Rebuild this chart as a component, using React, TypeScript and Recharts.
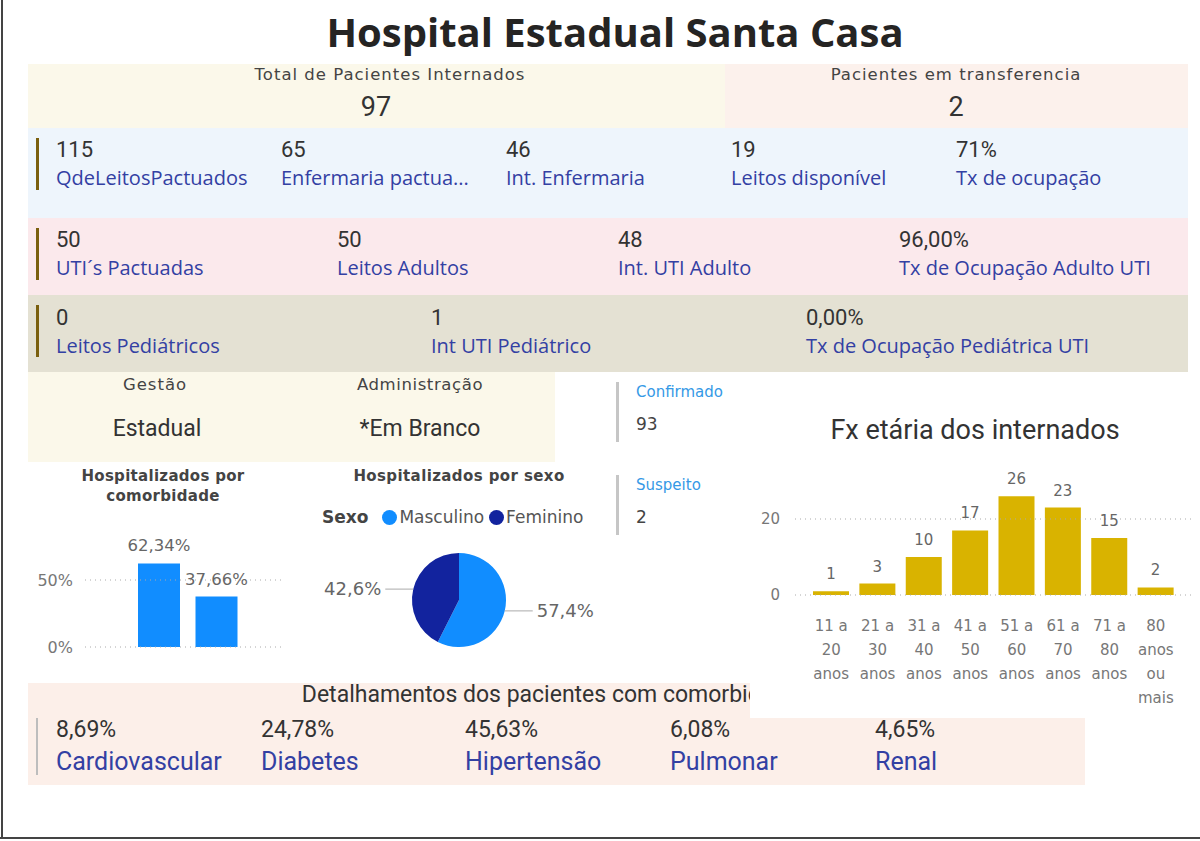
import {
  Bar,
  BarChart,
  Cell,
  LabelList,
  Legend,
  Pie,
  PieChart,
  ReferenceLine,
  XAxis,
  YAxis,
} from "recharts";

// KPI values
const totalInternados = "97";
const emTransferencia = "2";

const leitosLabels = ["QdeLeitosPactuados", "Enfermaria pactua...", "Int. Enfermaria", "Leitos disponível", "Tx de ocupação"];
const leitosValues = ["115", "65", "46", "19", "71%"];

const utiLabels = ["UTI´s Pactuadas", "Leitos Adultos", "Int. UTI Adulto", "Tx de Ocupação Adulto UTI"];
const utiValues = ["50", "50", "48", "96,00%"];

const pedLabels = ["Leitos Pediátricos", "Int UTI Pediátrico", "Tx de Ocupação Pediátrica UTI"];
const pedValues = ["0", "1", "0,00%"];

const gestao = "Estadual";
const administracao = "*Em Branco";
const confirmados = "93";
const suspeitos = "2";

// Hospitalizados por comorbidade
const comorbCategories = ["Com comorbidade", "Sem comorbidade"];
const comorbPercent = [62.34, 37.66];
const comorbTicks = [0, 50];

// Hospitalizados por sexo
const sexNames = ["Masculino", "Feminino"];
const sexCounts = [54, 40];
const sexColors = ["#118dff", "#12239e"];

// Fx etária
const ageGroups = ["11 a 20 anos", "21 a 30 anos", "31 a 40 anos", "41 a 50 anos", "51 a 60 anos", "61 a 70 anos", "71 a 80 anos", "80 anos ou mais"];
const ageCounts = [1, 3, 10, 17, 26, 23, 15, 2];
const ageTicks = [0, 20];

// Detalhamento comorbidades
const detailLabels = ["Cardiovascular", "Diabetes", "Hipertensão", "Pulmonar", "Renal"];
const detailValues = ["8,69%", "24,78%", "45,63%", "6,08%", "4,65%"];

const din = "Roboto, sans-serif";
const dinSmall = "'DejaVu Sans', Roboto, sans-serif";
const segoe = "'Open Sans', 'Noto Sans', sans-serif";
const navy = "#3340a3";
const dark = "#333";

const comorbData = comorbCategories.map((c, i) => ({ cat: c, pct: comorbPercent[i] }));
const sexData = sexNames.map((n, i) => ({ name: n, value: sexCounts[i] }));
const ageData = ageGroups.map((g, i) => ({ group: g, count: ageCounts[i] }));

const pctFmt = (v: number, d: number) => v.toFixed(d).replace(".", ",") + "%";

function wrapLabel(s: string, max = 4) {
  const lines: string[] = [];
  let cur = "";
  for (const w of s.split(" ")) {
    if (cur && (cur + " " + w).length > max) {
      lines.push(cur);
      cur = w;
    } else {
      cur = cur ? cur + " " + w : w;
    }
  }
  if (cur) lines.push(cur);
  return lines;
}

function Kpi({ x, y, value, label }: any) {
  return (
    <>
      <div style={{ position: "absolute", left: x, top: y - 13, lineHeight: "26px", fontSize: 22, color: dark, fontFamily: din, whiteSpace: "nowrap" }}>
        {value}
      </div>
      <div style={{ position: "absolute", left: x, top: y + 14, lineHeight: "28px", fontSize: 20, color: navy, fontFamily: segoe, whiteSpace: "nowrap" }}>
        {label}
      </div>
    </>
  );
}

function Box({ x, y, w, h, bg }: any) {
  return <div style={{ position: "absolute", left: x, top: y, width: w, height: h, background: bg }} />;
}

function Accent({ x, y, h, color = "#7a5f0e", w = 3 }: any) {
  return <div style={{ position: "absolute", left: x, top: y, width: w, height: h, background: color }} />;
}

function Centered({ cx, cy, size, text, color = "#444", weight = 400, font = dinSmall, lh = 22, ls = 0 }: any) {
  return (
    <div style={{ position: "absolute", left: cx - 300, width: 600, top: cy - lh / 2, lineHeight: lh + "px", textAlign: "center", fontSize: size, color, fontWeight: weight, fontFamily: font, letterSpacing: ls, whiteSpace: "nowrap" }}>
      {text}
    </div>
  );
}

const renderPieLabel = (p: any) => {
  const rad = Math.PI / 180;
  const cos = Math.cos(-p.midAngle * rad);
  const sin = Math.sin(-p.midAngle * rad);
  const sx = p.cx + p.outerRadius * cos;
  const sy = p.cy + p.outerRadius * sin;
  const dir = cos >= 0 ? 1 : -1;
  const ex = sx + dir * 28;
  return (
    <g>
      <line x1={sx} y1={sy} x2={ex} y2={sy} stroke="#aaa" strokeWidth={1} />
      <text x={ex + dir * 4} y={sy} dy={6} textAnchor={dir > 0 ? "start" : "end"} fontSize={18} fill="#666" fontFamily={dinSmall}>
        {pctFmt(p.percent * 100, 1)}
      </text>
    </g>
  );
};

const SexLegend = () => (
  <div style={{ display: "flex", alignItems: "center", fontFamily: dinSmall, fontSize: 17, color: "#555", lineHeight: "20px" }}>
    <span style={{ fontWeight: 700, color: "#444", marginRight: 14 }}>Sexo</span>
    {sexNames.map((n, i) => (
      <span key={n} style={{ display: "flex", alignItems: "center", marginRight: 5 }}>
        <span style={{ width: 15, height: 15, borderRadius: "50%", background: sexColors[i], marginRight: 2, display: "inline-block" }} />
        {n}
      </span>
    ))}
  </div>
);

const AgeTick = ({ x, y, payload }: any) => {
  const lines = wrapLabel(payload.value);
  return (
    <text x={x} y={y} textAnchor="middle" fill="#777" fontSize={15} fontFamily={dinSmall}>
      {lines.map((l, i) => (
        <tspan key={i} x={x} dy={i === 0 ? 36 : 24}>
          {l}
        </tspan>
      ))}
    </text>
  );
};

export default function App() {
  return (
    <div style={{ position: "absolute", left: 0, top: 0, width: 1200, height: 841, background: "#fff", overflow: "hidden" }}>
      {/* frame */}
      <div style={{ position: "absolute", left: 1, top: 0, width: 2, height: 838, background: "#444" }} />
      <div style={{ position: "absolute", left: 0, top: 837, width: 1200, height: 2, background: "#444" }} />

      <Centered cx={615} cy={32} size={40} weight={700} text="Hospital Estadual Santa Casa" color="#252423" font={segoe} lh={46} />

      {/* row 1 */}
      <Box x={28} y={64} w={697} h={64} bg="#fbf8ea" />
      <Box x={725} y={64} w={463} h={64} bg="#fcf1ec" />
      <Centered cx={390} cy={75} size={16.5} ls={1} text="Total de Pacientes Internados" />
      <Centered cx={376} cy={107} size={27} text={totalInternados} color={dark} font={din} lh={30} />
      <Centered cx={956} cy={75} size={16.5} ls={1} text="Pacientes em transferencia" />
      <Centered cx={956} cy={107} size={27} text={emTransferencia} color={dark} font={din} lh={30} />

      {/* row 2 */}
      <Box x={28} y={128} w={1160} h={90} bg="#eef5fc" />
      <Accent x={36} y={138} h={52} />
      {leitosLabels.map((l, i) => (
        <Kpi key={l} x={[56, 281, 506, 731, 956][i]} y={150} value={leitosValues[i]} label={l} />
      ))}

      {/* row 3 */}
      <Box x={28} y={218} w={1160} h={77} bg="#fbe9ec" />
      <Accent x={36} y={228} h={52} />
      {utiLabels.map((l, i) => (
        <Kpi key={l} x={[56, 337, 618, 899][i]} y={240} value={utiValues[i]} label={l} />
      ))}

      {/* row 4 */}
      <Box x={28} y={295} w={1160} h={77} bg="#e4e1d3" />
      <Accent x={36} y={305} h={52} />
      {pedLabels.map((l, i) => (
        <Kpi key={l} x={[56, 431, 806][i]} y={318} value={pedValues[i]} label={l} />
      ))}

      {/* gestão */}
      <Box x={28} y={372} w={527} h={90} bg="#fbf8ea" />
      <Centered cx={155} cy={385} size={16.5} ls={1} text="Gestão" />
      <Centered cx={157} cy={429} size={23} text={gestao} color={dark} font={din} lh={28} />
      <Centered cx={420} cy={385} size={16.5} ls={0.6} text="Administração" />
      <Centered cx={420} cy={429} size={23} text={administracao} color={dark} font={din} lh={28} />

      {/* confirmado / suspeito */}
      <Accent x={616} y={382} h={60} color="#c6c6c6" />
      <div style={{ position: "absolute", left: 636, top: 382, lineHeight: "20px", fontSize: 15, color: "#3599e6", fontFamily: dinSmall }}>Confirmado</div>
      <div style={{ position: "absolute", left: 636, top: 412, lineHeight: "24px", fontSize: 17, color: "#444", fontFamily: dinSmall }}>{confirmados}</div>
      <Accent x={616} y={475} h={60} color="#c6c6c6" />
      <div style={{ position: "absolute", left: 636, top: 475, lineHeight: "20px", fontSize: 15, color: "#3599e6", fontFamily: dinSmall }}>Suspeito</div>
      <div style={{ position: "absolute", left: 636, top: 505, lineHeight: "24px", fontSize: 17, color: "#444", fontFamily: dinSmall }}>{suspeitos}</div>

      {/* hospitalizados por comorbidade */}
      <Centered cx={163} cy={476} size={15} weight={700} ls={0.3} text="Hospitalizados por" lh={20} />
      <Centered cx={163} cy={496} size={15} weight={700} ls={0.3} text="comorbidade" lh={20} />
      <div style={{ position: "absolute", left: 0, top: 500 }}>
        <BarChart width={300} height={162} data={comorbData} margin={{ top: 13, right: 15, bottom: 15, left: 0 }}>
          {comorbTicks.map((t) => (
            <ReferenceLine key={t} y={t} stroke="#aaa" strokeDasharray="1 4" />
          ))}
          <XAxis dataKey="cat" hide padding={{ left: 45, right: 40 }} />
          <YAxis
            width={85}
            domain={[0, 100]}
            ticks={comorbTicks}
            interval={0}
            tickFormatter={(v: number) => v + "%"}
            axisLine={false}
            tickLine={false}
            tickSize={0}
            tickMargin={12}
            tick={{ fontSize: 16, fill: "#777", fontFamily: dinSmall }}
          />
          <Bar dataKey="pct" fill="#118dff" barSize={42} isAnimationActive={false}>
            <LabelList dataKey="pct" position="top" offset={12} formatter={(v: any) => pctFmt(Number(v), 2)} style={{ fontSize: 16.5, fill: "#666", fontFamily: dinSmall }} />
          </Bar>
        </BarChart>
      </div>

      {/* hospitalizados por sexo */}
      <Centered cx={459} cy={476} size={15} weight={700} ls={0.4} text="Hospitalizados por sexo" lh={20} />
      <div style={{ position: "absolute", left: 300, top: 500 }}>
        <PieChart width={320} height={180}>
          <Legend verticalAlign="top" align="left" wrapperStyle={{ top: 7, left: 22 }} content={() => <SexLegend />} />
          <Pie
            data={sexData}
            dataKey="value"
            nameKey="name"
            cx={154}
            cy={75}
            outerRadius={47}
            startAngle={90}
            endAngle={-270}
            stroke="none"
            labelLine={false}
            label={renderPieLabel}
            isAnimationActive={false}
          >
            {sexData.map((d, i) => (
              <Cell key={d.name} fill={sexColors[i]} />
            ))}
          </Pie>
        </PieChart>
      </div>

      {/* detalhamento comorbidades */}
      <Box x={28} y={683} w={1057} h={102} bg="#fcefe9" />
      <Centered cx={556} cy={695} size={23} text="Detalhamentos dos pacientes com comorbidades" color={dark} font={din} lh={26} />
      <Accent x={36} y={718} h={57} w={2} color="#bdbdbd" />
      {detailLabels.map((l, i) => (
        <div key={l}>
          <div style={{ position: "absolute", left: [56, 261, 465, 670, 875][i], top: 716, lineHeight: "28px", fontSize: 23, color: dark, fontFamily: din }}>{detailValues[i]}</div>
          <div style={{ position: "absolute", left: [56, 261, 465, 670, 875][i], top: 746, lineHeight: "32px", fontSize: 25, color: navy, fontFamily: din }}>{l}</div>
        </div>
      ))}

      {/* fx etária (sobreposto) */}
      <div style={{ position: "absolute", left: 750, top: 400, width: 450, height: 318, background: "#fff" }}>
        <div style={{ position: "absolute", left: 0, width: 450, top: 14, lineHeight: "32px", textAlign: "center", fontSize: 27, color: dark, fontFamily: din }}>
          Fx etária dos internados
        </div>
        <BarChart width={450} height={318} data={ageData} margin={{ top: 81, right: 5, bottom: 0, left: 0 }}>
          {ageTicks.map((t) => (
            <ReferenceLine key={t} y={t} stroke="#aaa" strokeDasharray="1 4" />
          ))}
          <XAxis
            dataKey="group"
            interval={0}
            axisLine={false}
            tickLine={false}
            tickSize={0}
            tickMargin={0}
            height={123}
            padding={{ left: 13, right: 16 }}
            tick={(p: any) => <AgeTick {...p} />}
          />
          <YAxis
            width={45}
            domain={[0, 30]}
            ticks={ageTicks}
            interval={0}
            axisLine={false}
            tickLine={false}
            tickSize={0}
            tickMargin={15}
            tick={{ fontSize: 15, fill: "#777", fontFamily: dinSmall }}
          />
          <Bar dataKey="count" fill="#d9b300" barSize={36} isAnimationActive={false}>
            <LabelList dataKey="count" position="top" offset={12} style={{ fontSize: 15, fill: "#666", fontFamily: dinSmall }} />
          </Bar>
        </BarChart>
      </div>
    </div>
  );
}
